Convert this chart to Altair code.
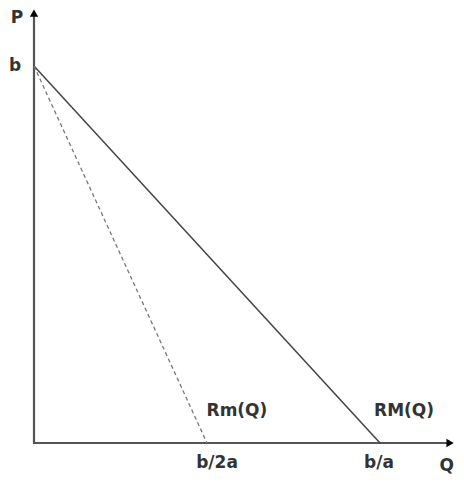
import altair as alt
import pandas as pd

# Data (units: b = 1, b/a = 2, b/2a = 1)
demand_q = [0, 2]          # RM(Q): from (0, b) to (b/a, 0)
demand_p = [1, 0]
marginal_q = [0, 1]        # Rm(Q): from (0, b) to (b/2a, 0)
marginal_p = [1, 0]
axis_x_end = 2.40
axis_y_end = 1.135
tick_labels = ["b/2a", "b/a"]

X_DOM = [-0.1503, 2.4393]
Y_DOM = [-0.0822, 1.1538]
W, H = 448, 466

xs = alt.Scale(domain=X_DOM, nice=False, zero=False)
ys = alt.Scale(domain=Y_DOM, nice=False, zero=False)

def X(f="x"):
    return alt.X(f"{f}:Q", scale=xs, axis=None)

def Y(f="y"):
    return alt.Y(f"{f}:Q", scale=ys, axis=None)

axes_df = pd.DataFrame({"x": [0, 0, axis_x_end], "y": [axis_y_end, 0, 0], "o": [0, 1, 2]})
axes = alt.Chart(axes_df).mark_line(color="#555", strokeWidth=2.2).encode(
    x=X(), y=Y(), order="o:Q")

up = alt.Chart(pd.DataFrame({"x": [0], "y": [1.140]})).mark_point(
    shape="triangle-up", filled=True, color="#000", size=70, opacity=1).encode(x=X(), y=Y())
right = alt.Chart(pd.DataFrame({"x": [2.405], "y": [0]})).mark_point(
    shape="triangle-right", filled=True, color="#000", size=70, opacity=1).encode(x=X(), y=Y())

rm_line = alt.Chart(pd.DataFrame({"x": demand_q, "y": demand_p})).mark_line(
    color="#444", strokeWidth=1.5).encode(x=X(), y=Y())
mr_line = alt.Chart(pd.DataFrame({"x": marginal_q, "y": marginal_p})).mark_line(
    color="#777", strokeWidth=1.3, strokeDash=[4, 3]).encode(x=X(), y=Y())

font = "DejaVu Sans"
labels_df = pd.DataFrame({
    "x": [-0.098, -0.110, 1.173, 2.139, 1.058, 1.994, 2.385],
    "y": [1.128, 1.0, 0.085, 0.085, -0.053, -0.053, -0.060],
    "t": ["P", "b", "Rm(Q)", "RM(Q)", tick_labels[0], tick_labels[1], "Q"],
})
labels = alt.Chart(labels_df).mark_text(
    font=font, fontSize=17, fontWeight="bold", color="#333", align="center", baseline="middle"
).encode(x=X(), y=Y(), text="t:N")

chart = alt.layer(axes, rm_line, mr_line, up, right, labels).properties(
    width=W, height=H, padding=0, autosize=alt.AutoSizeParams(type="none")
).configure_view(stroke=None)

chart.save("out.html", embed_options={"renderer": "svg", "actions": False})
